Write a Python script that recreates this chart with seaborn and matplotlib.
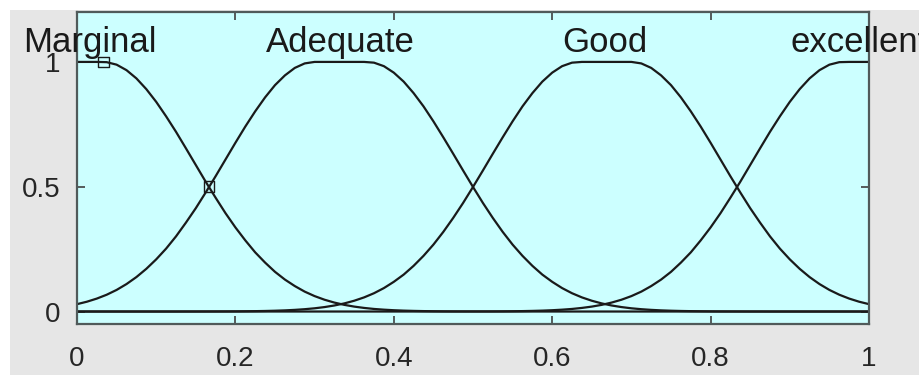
import numpy as np
import pandas as pd
import matplotlib
matplotlib.use("Agg")
import matplotlib.pyplot as plt
from matplotlib.patches import Rectangle
import seaborn as sns

# ---- data ----
x_vals = [0.0, 0.0125, 0.025, 0.0375, 0.05, 0.0625, 0.075, 0.0875, 0.1, 0.1125,
          0.125, 0.1375, 0.15, 0.1625, 0.175, 0.1875, 0.2, 0.2125, 0.225, 0.2375,
          0.25, 0.2625, 0.275, 0.2875, 0.3, 0.3125, 0.325, 0.3375, 0.35, 0.3625,
          0.375, 0.3875, 0.4, 0.4125, 0.425, 0.4375, 0.45, 0.4625, 0.475, 0.4875,
          0.5, 0.5125, 0.525, 0.5375, 0.55, 0.5625, 0.575, 0.5875, 0.6, 0.6125,
          0.625, 0.6375, 0.65, 0.6625, 0.675, 0.6875, 0.7, 0.7125, 0.725, 0.7375,
          0.75, 0.7625, 0.775, 0.7875, 0.8, 0.8125, 0.825, 0.8375, 0.85, 0.8625,
          0.875, 0.8875, 0.9, 0.9125, 0.925, 0.9375, 0.95, 0.9625, 0.975, 0.9875,
          1.0]

marginal = [1.0, 1.0, 1.0, 0.999, 0.989, 0.967, 0.934, 0.891, 0.840, 0.782,
            0.720, 0.654, 0.587, 0.520, 0.456, 0.394, 0.337, 0.285, 0.237, 0.196,
            0.159, 0.128, 0.102, 0.0797, 0.0618, 0.0473, 0.0358, 0.0267, 0.0197, 0.0144,
            0.0103, 0.0074, 0.0052, 0.0036, 0.0025, 0.0017, 0.0011, 0.0007, 0.0005, 0.0003,
            0.0002, 0.0001, 0.0, 0.0, 0.0, 0.0, 0.0, 0.0, 0.0, 0.0,
            0.0, 0.0, 0.0, 0.0, 0.0, 0.0, 0.0, 0.0, 0.0, 0.0,
            0.0, 0.0, 0.0, 0.0, 0.0, 0.0, 0.0, 0.0, 0.0, 0.0,
            0.0, 0.0, 0.0, 0.0, 0.0, 0.0, 0.0, 0.0, 0.0, 0.0,
            0.0]

adequate = [0.0295, 0.0393, 0.0518, 0.0673, 0.0865, 0.110, 0.138, 0.171, 0.209, 0.252,
            0.301, 0.356, 0.414, 0.477, 0.542, 0.609, 0.676, 0.741, 0.802, 0.858,
            0.907, 0.946, 0.976, 0.994, 1.0, 1.0, 1.0, 1.0, 1.0, 1.0,
            0.997, 0.983, 0.957, 0.921, 0.875, 0.822, 0.762, 0.698, 0.632, 0.565,
            0.499, 0.435, 0.375, 0.319, 0.268, 0.223, 0.183, 0.148, 0.119, 0.0939,
            0.0733, 0.0566, 0.0432, 0.0325, 0.0242, 0.0178, 0.0129, 0.0093, 0.0066, 0.0046,
            0.0032, 0.0022, 0.0015, 0.0010, 0.0006, 0.0004, 0.0003, 0.0002, 0.0001, 0.0001,
            0.0, 0.0, 0.0, 0.0, 0.0, 0.0, 0.0, 0.0, 0.0, 0.0,
            0.0]

good = [0.0, 0.0, 0.0, 0.0, 0.0, 0.0, 0.0, 0.0, 0.0, 0.0,
        0.0, 0.0001, 0.0001, 0.0002, 0.0003, 0.0004, 0.0006, 0.0010, 0.0015, 0.0022,
        0.0032, 0.0046, 0.0066, 0.0093, 0.0129, 0.0178, 0.0242, 0.0325, 0.0432, 0.0566,
        0.0733, 0.0939, 0.119, 0.148, 0.183, 0.223, 0.268, 0.319, 0.375, 0.435,
        0.499, 0.565, 0.632, 0.698, 0.762, 0.822, 0.875, 0.921, 0.957, 0.983,
        0.997, 1.0, 1.0, 1.0, 1.0, 1.0, 1.0, 0.994, 0.976, 0.946,
        0.907, 0.858, 0.802, 0.741, 0.676, 0.609, 0.542, 0.477, 0.414, 0.356,
        0.301, 0.252, 0.209, 0.171, 0.138, 0.110, 0.0865, 0.0673, 0.0518, 0.0393,
        0.0295]

excellent = [0.0, 0.0, 0.0, 0.0, 0.0, 0.0, 0.0, 0.0, 0.0, 0.0,
             0.0, 0.0, 0.0, 0.0, 0.0, 0.0, 0.0, 0.0, 0.0, 0.0,
             0.0, 0.0, 0.0, 0.0, 0.0, 0.0, 0.0, 0.0, 0.0, 0.0,
             0.0, 0.0, 0.0, 0.0, 0.0, 0.0, 0.0, 0.0, 0.0, 0.0001,
             0.0002, 0.0003, 0.0005, 0.0007, 0.0011, 0.0017, 0.0025, 0.0036, 0.0052, 0.0074,
             0.0103, 0.0144, 0.0197, 0.0267, 0.0358, 0.0473, 0.0618, 0.0797, 0.102, 0.128,
             0.159, 0.196, 0.237, 0.285, 0.337, 0.394, 0.456, 0.520, 0.587, 0.654,
             0.720, 0.782, 0.840, 0.891, 0.934, 0.967, 0.989, 0.999, 1.0, 1.0,
             1.0]

mf_names = ["Marginal", "Adequate", "Good", "excellent"]
label_x = [0.016, 0.333, 0.667, 0.988]

marker_x = [0.0333, 0.1667]
marker_y = [1.0, 0.5]

x_ticks = [0, 0.2, 0.4, 0.6, 0.8, 1]
x_ticklabels = ["0", "0.2", "0.4", "0.6", "0.8", "1"]
y_ticks = [0, 0.5, 1]
y_ticklabels = ["0", "0.5", "1"]

# ---- long-form table ----
series = [marginal, adequate, good, excellent]
df = pd.concat(
    [pd.DataFrame({"x": x_vals, "mu": s, "mf": n}) for n, s in zip(mf_names, series)],
    ignore_index=True,
)

sns.set_theme(style="white")
plt.rcParams["font.family"] = ["Liberation Sans", "DejaVu Sans"]

fig = plt.figure(figsize=(9.19, 3.75), dpi=100)
fig.patch.set_facecolor("white")
fig.patches.append(Rectangle((10 / 919, 0), 1, 365 / 375, transform=fig.transFigure,
                             facecolor="#e6e6e6", edgecolor="none", zorder=-10))

ax = fig.add_axes([77 / 919, (375 - 324) / 375, 792 / 919, 312 / 375])
ax.set_facecolor("#ccffff")

sns.lineplot(data=df, x="x", y="mu", hue="mf", palette=["#1a1a1a"] * 4,
             legend=False, linewidth=1.6, ax=ax, estimator=None, sort=False)

ax.scatter(marker_x, marker_y, marker="s", s=60, facecolors="none",
           edgecolors="#1a1a1a", linewidths=1.0, zorder=5)

for name, lx in zip(mf_names, label_x):
    ax.text(lx, 1.04, name, ha="center", va="baseline", fontsize=25,
            color="#1a1a1a", clip_on=False)

ax.set_xlim(0, 1)
ax.set_ylim(-0.05, 1.2)
ax.set_xticks(x_ticks)
ax.set_xticklabels(x_ticklabels)
ax.set_yticks(y_ticks)
ax.set_yticklabels(y_ticklabels)
ax.set_xlabel("")
ax.set_ylabel("")
ax.tick_params(axis="both", direction="in", length=6, width=1.2, color="#404040",
               labelsize=20, labelcolor="#262626", top=True, right=True,
               bottom=True, left=True)
ax.tick_params(axis="x", pad=16)
ax.tick_params(axis="y", pad=12)
for sp in ax.spines.values():
    sp.set_visible(True)
    sp.set_color("#505a5a")
    sp.set_linewidth(1.6)

fig.savefig("out.png", dpi=100, facecolor=fig.get_facecolor())
